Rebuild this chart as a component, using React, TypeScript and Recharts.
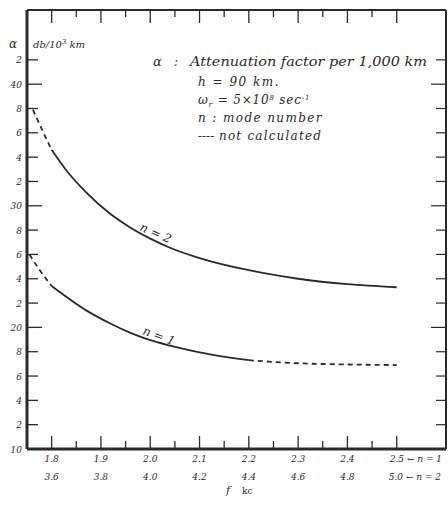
import React from 'react';
import { LineChart, Line, XAxis, YAxis } from 'recharts';

// alpha (db / 1000 km) against f (kc)
const n2Dashed = [
  { f: 1.762, a: 37.9 },
  { f: 1.78, a: 36.3 },
  { f: 1.8, a: 34.6 },
];
const n2Solid = [
  { f: 1.8, a: 34.6 },
  { f: 1.83, a: 32.9 },
  { f: 1.87, a: 31.1 },
  { f: 1.92, a: 29.3 },
  { f: 1.96, a: 28.2 },
  { f: 2.0, a: 27.3 },
  { f: 2.04, a: 26.55 },
  { f: 2.1, a: 25.7 },
  { f: 2.2, a: 24.7 },
  { f: 2.3, a: 24.0 },
  { f: 2.4, a: 23.55 },
  { f: 2.5, a: 23.3 },
];
const n1Dashed = [
  { f: 1.755, a: 26.0 },
  { f: 1.776, a: 24.7 },
  { f: 1.8, a: 23.4 },
];
const n1Solid = [
  { f: 1.8, a: 23.4 },
  { f: 1.87, a: 21.4 },
  { f: 1.92, a: 20.3 },
  { f: 1.96, a: 19.55 },
  { f: 2.0, a: 18.95 },
  { f: 2.04, a: 18.5 },
  { f: 2.1, a: 17.95 },
  { f: 2.2, a: 17.3 },
];
const n1Tail = [
  { f: 2.2, a: 17.3 },
  { f: 2.3, a: 17.05 },
  { f: 2.4, a: 16.95 },
  { f: 2.5, a: 16.9 },
];

const xTicks = [1.8, 1.85, 1.9, 1.95, 2.0, 2.05, 2.1, 2.15, 2.2, 2.25, 2.3, 2.35, 2.4, 2.45, 2.5];
const fLabelsN1 = ['1.8', '1.9', '2.0', '2.1', '2.2', '2.3', '2.4', '2.5'];
const fLabelsN2 = ['3.6', '3.8', '4.0', '4.2', '4.4', '4.6', '4.8', '5.0'];
const yTicks = [10, 12, 14, 16, 18, 20, 22, 24, 26, 28, 30, 32, 34, 36, 38, 40, 42];
const yLabels = ['10', '2', '4', '6', '8', '20', '2', '4', '6', '8', '30', '2', '4', '6', '8', '40', '2'];

const INK = '#2a2a2a';
const HAND = '"DejaVu Serif", "Liberation Serif", serif';

const isMajorX = (v: number) => Math.abs(v * 10 - Math.round(v * 10)) < 1e-6;
const isMajorY = (v: number) => v % 10 === 0;

const BottomTick = ({ x, y, payload }: any) => {
  const v = payload.value;
  const major = isMajorX(v);
  const i = fLabelsN1.indexOf(v.toFixed(1));
  const last = i === fLabelsN1.length - 1;
  return (
    <g>
      <line x1={x} x2={x} y1={y} y2={y - (major ? 13 : 8)} stroke={INK} strokeWidth={1.3} />
      {major && i >= 0 && (
        <g fontFamily={HAND} fontStyle="italic" fontSize={9} fill={INK}>
          <text x={x} y={y + 13} textAnchor={last ? 'start' : 'middle'} dx={last ? -7 : 0}>
            {last ? `${fLabelsN1[i]} \u2190 n = 1` : fLabelsN1[i]}
          </text>
          <text x={x} y={y + 31} textAnchor={last ? 'start' : 'middle'} dx={last ? -8 : 0}>
            {last ? `${fLabelsN2[i]} \u2190 n = 2` : fLabelsN2[i]}
          </text>
        </g>
      )}
    </g>
  );
};

const TopTick = ({ x, y, payload }: any) => {
  const major = isMajorX(payload.value);
  return <line x1={x} x2={x} y1={y} y2={y + (major ? 13 : 7)} stroke={INK} strokeWidth={1.3} />;
};

const LeftTick = ({ x, y, payload }: any) => {
  const v = payload.value;
  const i = yTicks.indexOf(v);
  return (
    <g>
      {v > 10 && (
        <line x1={x} x2={x + (isMajorY(v) ? 15 : 11)} y1={y} y2={y} stroke={INK} strokeWidth={1.3} />
      )}
      <text x={x - 5} y={y + 3.5} textAnchor="end" fontFamily={HAND} fontStyle="italic" fontSize={9} fill={INK}>
        {yLabels[i]}
      </text>
    </g>
  );
};

const RightTick = ({ x, y, payload }: any) => {
  const v = payload.value;
  if (v <= 10) return <g />;
  return <line x1={x} x2={x - (isMajorY(v) ? 15 : 10)} y1={y} y2={y} stroke={INK} strokeWidth={1.2} />;
};

export default function App() {
  const lineProps = {
    type: 'monotone' as const,
    dataKey: 'a',
    stroke: INK,
    strokeWidth: 1.8,
    dot: false,
    activeDot: false,
    isAnimationActive: false,
  };
  return (
    <div style={{ position: 'absolute', left: 0, top: 0, width: 448, height: 507, background: '#fff' }}>
      <LineChart width={448} height={507} margin={{ top: 9, right: 1, bottom: 57, left: 26 }}>
        <XAxis
          dataKey="f"
          type="number"
          domain={[1.75, 2.6]}
          allowDataOverflow
          ticks={xTicks}
          height={1}
          tickSize={0}
          tickMargin={0}
          interval={0}
          axisLine={{ stroke: INK, strokeWidth: 3 }}
          tickLine={false}
          tick={<BottomTick />}
        />
        <XAxis
          xAxisId="top"
          orientation="top"
          dataKey="f"
          type="number"
          domain={[1.75, 2.6]}
          allowDataOverflow
          ticks={xTicks}
          height={1}
          tickSize={0}
          tickMargin={0}
          interval={0}
          axisLine={{ stroke: INK, strokeWidth: 2 }}
          tickLine={false}
          tick={<TopTick />}
        />
        <YAxis
          type="number"
          domain={[10, 46.1]}
          allowDataOverflow
          ticks={yTicks}
          width={1}
          tickSize={0}
          tickMargin={0}
          interval={0}
          axisLine={{ stroke: INK, strokeWidth: 3 }}
          tickLine={false}
          tick={<LeftTick />}
        />
        <YAxis
          yAxisId="right"
          orientation="right"
          type="number"
          domain={[10, 46.1]}
          allowDataOverflow
          ticks={yTicks}
          width={1}
          tickSize={0}
          tickMargin={0}
          interval={0}
          axisLine={{ stroke: INK, strokeWidth: 2 }}
          tickLine={false}
          tick={<RightTick />}
        />
        <Line {...lineProps} data={n2Dashed} strokeDasharray="5 4" />
        <Line {...lineProps} data={n2Solid} />
        <Line {...lineProps} data={n1Dashed} strokeDasharray="5 4" />
        <Line {...lineProps} data={n1Solid} />
        <Line {...lineProps} data={n1Tail} strokeDasharray="5 4" />
      </LineChart>
      <svg
        width={448}
        height={507}
        style={{ position: 'absolute', left: 0, top: 0, pointerEvents: 'none' }}
        fontFamily={HAND}
        fontStyle="italic"
        fill={INK}
      >
        <text x={9} y={48} fontSize={12}>{'\u03b1'}</text>
        <text x={33} y={48} fontSize={10}>
          db/10<tspan dy={-4} fontSize={7}>3</tspan>
          <tspan dy={4}> km</tspan>
        </text>
        <text x={153} y={66} fontSize={13}>{'\u03b1'}</text>
        <text x={174} y={66} fontSize={12}>:</text>
        <text x={190} y={66} fontSize={13} textLength={237} lengthAdjust="spacingAndGlyphs">
          Attenuation factor per 1,000 km
        </text>
        <text x={198} y={86} fontSize={12} letterSpacing={1.5}>h = 90 km.</text>
        <text x={198} y={104} fontSize={12} letterSpacing={0.8}>
          {'\u03c9'}<tspan dy={3} fontSize={8}>r</tspan>
          <tspan dy={-3}> = 5{'\u00d7'}10</tspan>
          <tspan dy={-4} fontSize={7}>8</tspan>
          <tspan dy={4}> sec</tspan>
          <tspan dy={-4} fontSize={7}>-1</tspan>
        </text>
        <text x={198} y={122} fontSize={12} letterSpacing={1.4}>n : mode number</text>
        <text x={198} y={140} fontSize={12}>----</text>
        <text x={219} y={140} fontSize={12} letterSpacing={1.2}>not calculated</text>
        <text x={139} y={230} fontSize={12} transform="rotate(24 139 230)">n = 2</text>
        <text x={142} y={334} fontSize={12} transform="rotate(20 142 334)">n = 1</text>
        <text x={226} y={494} fontSize={11}>f</text>
        <text x={242} y={494} fontSize={9} fontStyle="normal">kc</text>
      </svg>
    </div>
  );
}
